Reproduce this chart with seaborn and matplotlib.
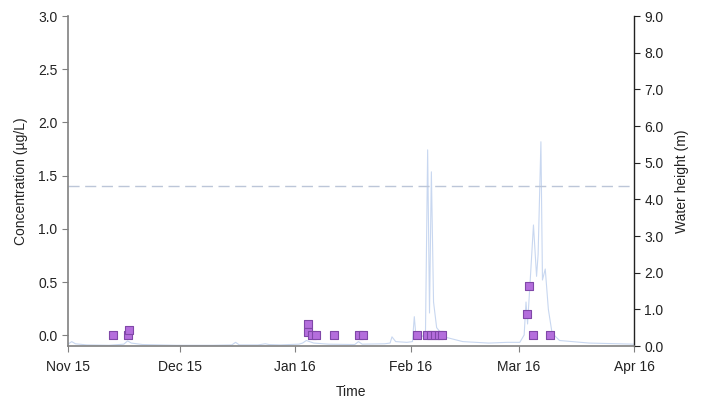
import matplotlib
matplotlib.use("Agg")
import matplotlib.pyplot as plt
import matplotlib.dates as mdates
import pandas as pd
import seaborn as sns

# Concentration samples (µg/L)
conc_dates = ["2015-11-13 00:00", "2015-11-17 00:00", "2015-11-17 12:00",
              "2016-01-04 12:00", "2016-01-04 12:00", "2016-01-05 12:00", "2016-01-06 12:00",
              "2016-01-11 12:00", "2016-01-18 06:00", "2016-01-19 06:00",
              "2016-02-02 18:00", "2016-02-05 08:00", "2016-02-06 09:00", "2016-02-07 12:00",
              "2016-02-08 12:00", "2016-02-09 12:00",
              "2016-03-03 09:00", "2016-03-03 18:00", "2016-03-04 22:00", "2016-03-09 12:00"]
conc_values = [0.0, 0.0, 0.05,
               0.11, 0.035, 0.0, 0.0,
               0.0, 0.0, 0.0,
               0.0, 0.0, 0.0, 0.0,
               0.0, 0.0,
               0.2, 0.46, 0.0, 0.0]

# Water height (m)
water_dates = ["2015-11-01 00:00", "2015-11-02 00:00", "2015-11-03 00:00", "2015-11-06 00:00", "2015-11-12 00:00",
               "2015-11-16 00:00", "2015-11-17 00:00", "2015-11-18 00:00", "2015-11-21 00:00", "2015-11-30 00:00",
               "2015-12-10 00:00", "2015-12-15 00:00", "2015-12-16 00:00", "2015-12-17 00:00", "2015-12-22 00:00",
               "2015-12-24 00:00", "2015-12-25 00:00", "2015-12-28 00:00", "2016-01-02 00:00", "2016-01-03 00:00",
               "2016-01-04 00:00", "2016-01-06 00:00", "2016-01-10 00:00", "2016-01-17 00:00", "2016-01-18 00:00",
               "2016-01-19 00:00", "2016-01-25 00:00", "2016-01-26 12:00", "2016-01-27 00:00", "2016-01-28 00:00",
               "2016-01-31 00:00", "2016-02-01 12:00", "2016-02-02 00:00", "2016-02-02 12:00", "2016-02-04 00:00",
               "2016-02-05 00:00", "2016-02-05 14:00", "2016-02-06 02:00", "2016-02-06 14:00", "2016-02-07 04:00",
               "2016-02-08 00:00", "2016-02-10 00:00", "2016-02-15 00:00", "2016-02-22 00:00", "2016-02-27 00:00",
               "2016-03-01 08:00", "2016-03-02 12:00", "2016-03-03 00:00", "2016-03-03 10:00", "2016-03-04 06:00",
               "2016-03-05 00:00", "2016-03-05 20:00", "2016-03-06 06:00", "2016-03-07 00:00", "2016-03-07 10:00",
               "2016-03-08 04:00", "2016-03-09 00:00", "2016-03-10 00:00", "2016-03-12 00:00", "2016-03-20 00:00",
               "2016-04-01 00:00"]
water_values = [0.05, 0.12, 0.06, 0.03, 0.02,
                0.05, 0.14, 0.08, 0.04, 0.02,
                0.02, 0.03, 0.1, 0.03, 0.03,
                0.06, 0.04, 0.03, 0.05, 0.08,
                0.15, 0.08, 0.05, 0.04, 0.12,
                0.05, 0.06, 0.08, 0.25, 0.12,
                0.1, 0.12, 0.8, 0.2, 0.25,
                0.35, 5.35, 0.9, 4.75, 1.2,
                0.5, 0.25, 0.12, 0.08, 0.1,
                0.1, 0.3, 1.2, 0.6, 2.0,
                3.3, 1.9, 2.5, 5.57, 1.8,
                2.1, 1.0, 0.35, 0.15, 0.08,
                0.05]

xticks = ["2015-11-01", "2015-12-01", "2016-01-01", "2016-02-01", "2016-03-01", "2016-04-01"]
left_ticks = [0.0, 0.5, 1.0, 1.5, 2.0, 2.5, 3.0]
right_ticks = [0.0, 1.0, 2.0, 3.0, 4.0, 5.0, 6.0, 7.0, 8.0, 9.0]
threshold = 1.4

conc = pd.DataFrame({"date": pd.to_datetime(conc_dates, format="mixed"), "value": conc_values})
water = pd.DataFrame({"date": pd.to_datetime(water_dates, format="mixed"), "value": water_values})

sns.set_theme(style="white")
plt.rcParams["font.family"] = ["Liberation Sans", "DejaVu Sans"]

fig = plt.figure(figsize=(7.02, 4.03), dpi=100)
ax = fig.add_axes([68 / 702, 1 - 346 / 403, (634 - 68) / 702, (346 - 16) / 403])
ax2 = ax.twinx()

sns.lineplot(data=water, x="date", y="value", ax=ax2, color="#c8d7f0", linewidth=0.8)
ax.axhline(threshold, color="#bcc6d8", linestyle=(0, (8, 4)), linewidth=1.0)
sns.scatterplot(data=conc, x="date", y="value", ax=ax, marker="s", s=40,
                color="#b46edc", edgecolor="#8048a8", linewidth=0.8, zorder=5)

ax.set_zorder(ax2.get_zorder() + 1)
ax.patch.set_visible(False)

ax.set_xlim(pd.Timestamp(xticks[0]), pd.Timestamp(xticks[-1]))
ax.set_xticks(pd.to_datetime(xticks))
ax.xaxis.set_major_formatter(mdates.DateFormatter("%b %y"))
ax.set_ylim(-0.1, 3.0)
ax.set_yticks(left_ticks)
ax.set_yticklabels([f"{v:.1f}" for v in left_ticks])
ax2.set_ylim(0, 9.0)
ax2.set_yticks(right_ticks)
ax2.set_yticklabels([f"{v:.1f}" for v in right_ticks])

ax.set_xlabel("Time", fontsize=10, color="#222222", labelpad=8)
ax.set_ylabel("Concentration (µg/L)", fontsize=10, color="#222222", labelpad=7)
ax2.set_ylabel("Water height (m)", fontsize=10, color="#222222", labelpad=8)
ax2.set_xlabel("")

for a in (ax, ax2):
    a.spines["top"].set_visible(False)
    a.tick_params(labelsize=10, labelcolor="#222222")
ax.spines["right"].set_visible(False)
ax.spines["left"].set_color("#808080")
ax.spines["bottom"].set_color("#808080")
ax.spines["left"].set_linewidth(1.2)
ax.spines["bottom"].set_linewidth(1.2)
ax2.spines["left"].set_visible(False)
ax2.spines["bottom"].set_visible(False)
ax2.spines["right"].set_color("#222222")
ax2.spines["right"].set_linewidth(1.0)
ax.tick_params(axis="both", direction="out", length=4, width=0.8, color="#808080", left=True, bottom=True)
ax.tick_params(axis="x", pad=6)
ax2.tick_params(axis="y", direction="out", length=4, width=0.8, color="#222222", right=True)

fig.savefig("out.png", dpi=100)
